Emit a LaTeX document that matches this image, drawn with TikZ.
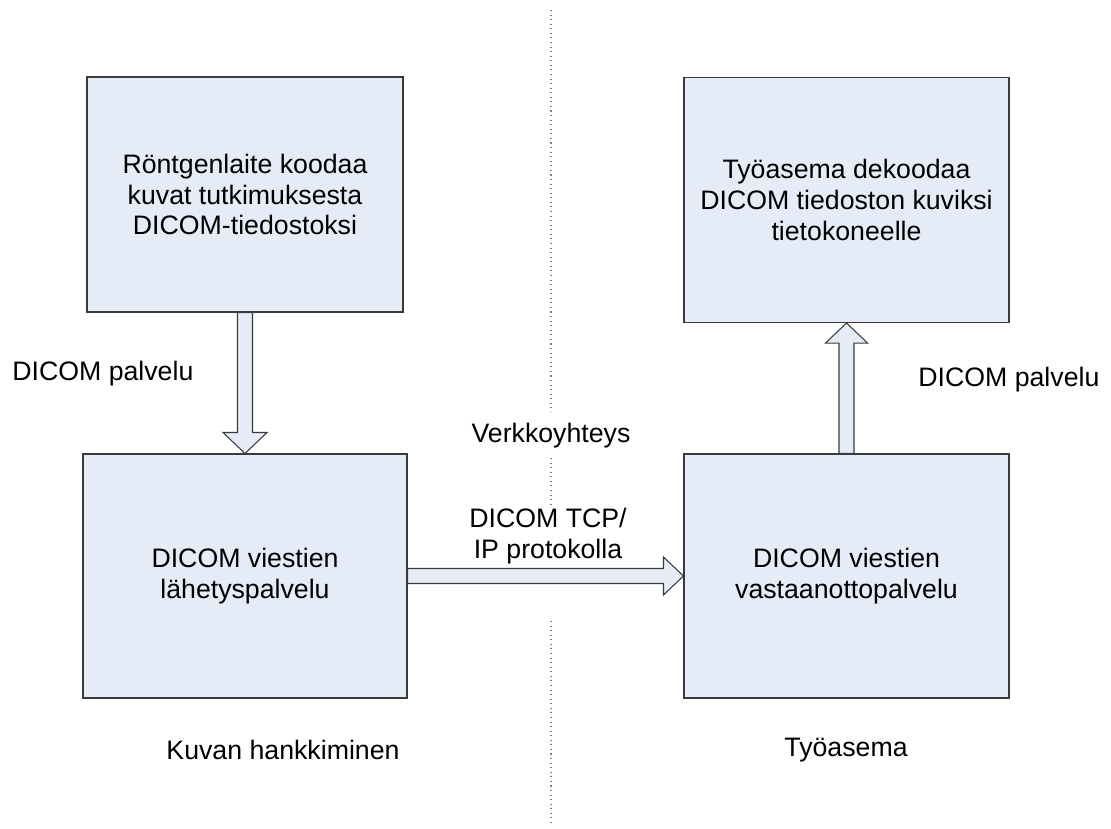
\documentclass[tikz,border=0pt]{standalone}
\usepackage{fontspec}
\setmainfont{Liberation Sans}
\usetikzlibrary{calc}
\definecolor{boxfill}{HTML}{E6ECF7}
\definecolor{boxline}{HTML}{3A3A3A}
\begin{document}
\begin{tikzpicture}[
        x=0.02cm, y=-0.02cm,
        font=\fontsize{15.2}{17.6}\selectfont,
        blk/.style={draw=boxline, fill=boxfill, line width=0.6pt, align=center, inner sep=0pt},
        arr/.style={draw=boxline, fill=boxfill, line width=0.6pt, line join=miter},
        lbl/.style={align=center, inner sep=0pt},
        sep/.style={draw=gray, dotted, line width=0.6pt},
      ]
        \useasboundingbox (0,0) rectangle (1111,828);
        % boxes
        \node[blk, minimum width=316*0.02cm, minimum height=235*0.02cm] (rtg) at (245,194.5)
          {Röntgenlaite koodaa\\kuvat tutkimuksesta\\DICOM-tiedostoksi};
        \node[blk, minimum width=324*0.02cm, minimum height=244*0.02cm] (send) at (245,576)
          {DICOM viestien\\lähetyspalvelu};
        \node[blk, minimum width=325*0.02cm, minimum height=245*0.02cm] (ws) at (846.5,200)
          {Työasema dekoodaa\\DICOM tiedoston kuviksi\\tietokoneelle};
        \node[blk, minimum width=325*0.02cm, minimum height=244*0.02cm] (recv) at (846.5,576)
          {DICOM viestien\\vastaanottopalvelu};
        % labels
        \node[lbl, anchor=west] (svc1) at (12,374) {DICOM palvelu};
        \node[lbl, anchor=west] (svc2) at (918,380) {DICOM palvelu};
        \node[lbl] (net) at (551,436) {Verkkoyhteys};
        \node[lbl] (tcp) at (548,536) {DICOM TCP/\\IP protokolla};
        \node[lbl] (acq) at (283,750) {Kuvan hankkiminen};
        \node[lbl] (wsl) at (846,750) {Työasema};
        % separator
        \coordinate (s1) at (551,10);
        \coordinate (s2) at (551,412);
        \coordinate (s3) at (551,458);
        \coordinate (s4) at (551,507);
        \coordinate (s5) at (551,621);
        \coordinate (s6) at (551,826);
        \draw[sep] (s1) -- (s2);
        \draw[sep] (s3) -- (s4);
        \draw[sep] (s5) -- (s6);
        % block arrows
        \draw[arr] ($(rtg.south)+(-7.5,0)$) -- ($(send.north)+(-7.5,-21)$) -- ($(send.north)+(-22,-21)$)
          -- (send.north) -- ($(send.north)+(22,-21)$) -- ($(send.north)+(7.5,-21)$)
          -- ($(rtg.south)+(7.5,0)$) -- cycle;
        \draw[arr] ($(recv.north)+(-7.5,0)$) -- ($(ws.south)+(-7.5,20)$) -- ($(ws.south)+(-21,20)$)
          -- (ws.south) -- ($(ws.south)+(21,20)$) -- ($(ws.south)+(7.5,20)$)
          -- ($(recv.north)+(7.5,0)$) -- cycle;
        \draw[arr] ($(send.east)+(0,-7.5)$) -- ($(recv.west)+(-20,-7.5)$) -- ($(recv.west)+(-20,-19)$)
          -- (recv.west) -- ($(recv.west)+(-20,19)$) -- ($(recv.west)+(-20,7.5)$)
          -- ($(send.east)+(0,7.5)$) -- cycle;
      \end{tikzpicture}
\end{document}
